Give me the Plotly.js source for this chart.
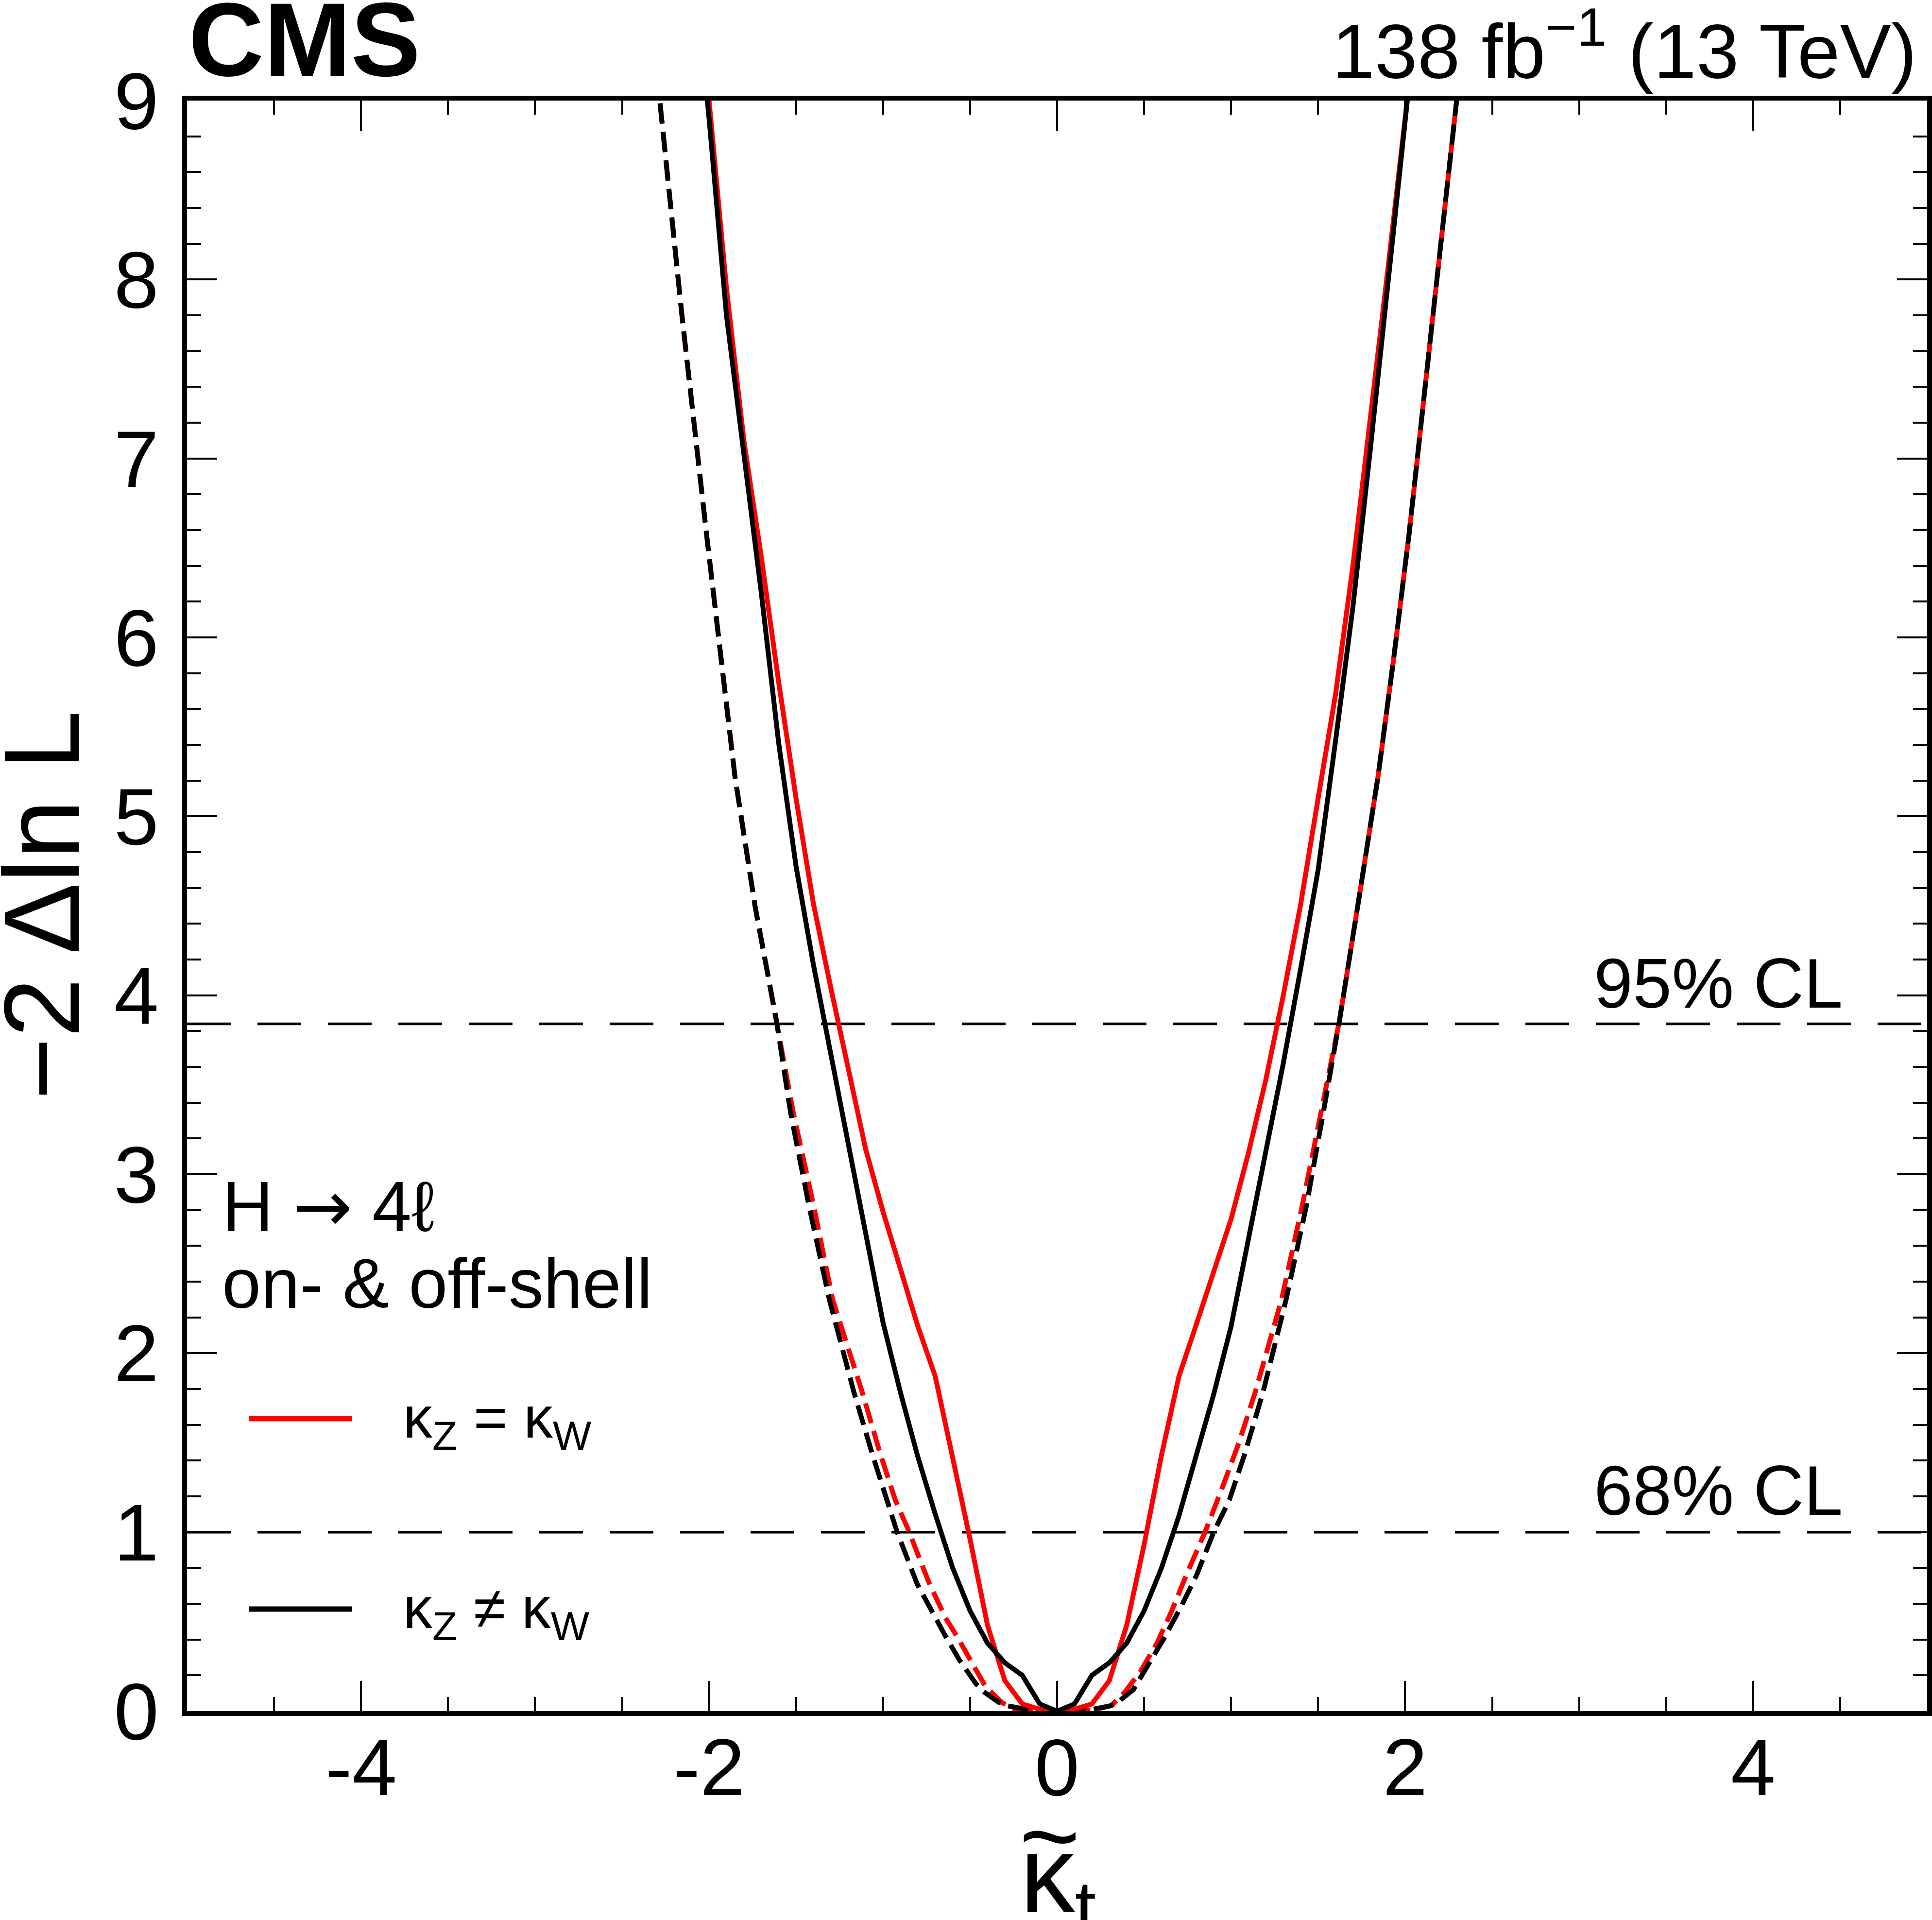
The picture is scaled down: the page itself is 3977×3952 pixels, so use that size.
<!DOCTYPE html>
<html>
<head>
<meta charset="utf-8">
<script src="https://cdn.plot.ly/plotly-3.0.1.min.js"></script>
<style>
  html, body { margin: 0; padding: 0; background: #ffffff; }
  #chart { width: 3977px; height: 3952px; }
</style>
</head>
<body>
<div id="chart"></div>
<script>
// ---------------- data ----------------
// kappa_t grid of the observed scans
const KT_GRID = [-2.1,-2.0,-1.9,-1.8,-1.7,-1.6,-1.5,-1.4,-1.3,-1.2,-1.1,-1.0,-0.9,-0.8,-0.7,-0.6,-0.5,-0.4,-0.3,-0.2,-0.1,0,
                 0.1,0.2,0.3,0.4,0.5,0.6,0.7,0.8,0.9,1.0,1.1,1.2,1.3,1.4,1.5,1.6,1.7,1.8,1.9,2.0,2.1];
// observed, kZ = kW (red solid)
const DNLL_KZ_EQ_KW_OBS = [9.9,9.0,7.95,7.1,6.45,5.75,5.10,4.51,4.04,3.60,3.14,2.79,2.47,2.15,1.87,1.43,0.96,0.48,0.17,0.04,0.01,0,
                           0.01,0.04,0.17,0.48,0.93,1.43,1.87,2.16,2.46,2.75,3.12,3.53,4.0,4.51,5.10,5.68,6.40,7.2,8.05,8.9,9.8];
// observed, kZ != kW (black solid)
const DNLL_KZ_NE_KW_OBS = [9.9,8.9,7.8,7.05,6.25,5.41,4.72,4.17,3.67,3.16,2.67,2.17,1.78,1.42,1.10,0.80,0.56,0.38,0.27,0.20,0.04,0,
                           0.04,0.20,0.27,0.38,0.56,0.80,1.09,1.42,1.77,2.15,2.63,3.12,3.62,4.15,4.70,5.42,6.17,7.05,7.95,8.88,9.8];
// expected, kZ = kW (red dashed)
const KT_KZ_EQ_KW_EXP = [-2.4,-2.286,-2.156,-2.015,-1.931,-1.851,-1.736,-1.613,-1.515,-1.398,-1.29,-1.119,-1.02,-0.93,-0.858,-0.737,-0.642,-0.575,-0.494,-0.413,
                         -0.318,-0.24,-0.1,0,0.1,0.2,0.31,0.384,0.478,0.573,0.654,0.748,0.85,0.95,1.045,1.138,1.29,1.408,1.515,1.623,
                         1.728,1.844,1.934,2.023,2.16,2.296,2.4];
const DNLL_KZ_EQ_KW_EXP = [10.1,9.0,7.8,6.58,5.88,5.22,4.50,3.86,3.34,2.82,2.30,1.78,1.45,1.18,1.02,0.72,0.522,0.417,0.272,0.14,
                           0.048,0.01,0.001,0,0.001,0.005,0.03,0.1,0.22,0.378,0.549,0.773,1.0,1.25,1.50,1.78,2.30,2.82,3.34,3.86,
                           4.50,5.22,5.88,6.58,7.8,9.0,10.1];
// expected, kZ != kW (black dashed)
const KT_KZ_NE_KW_EXP = [-2.4,-2.286,-2.156,-2.015,-1.931,-1.851,-1.736,-1.613,-1.531,-1.425,-1.309,-1.167,-1.06,-0.98,-0.919,-0.804,-0.723,-0.642,-0.561,-0.467,
                         -0.426,-0.337,-0.288,-0.181,0,0.21,0.309,0.348,0.438,0.519,0.613,0.708,0.802,0.9,0.99,1.076,1.183,1.316,1.432,1.529,
                         1.623,1.728,1.844,1.934,2.023,2.16,2.296,2.4];
const DNLL_KZ_NE_KW_EXP = [10.1,9.0,7.8,6.58,5.88,5.22,4.50,3.86,3.34,2.82,2.30,1.78,1.43,1.18,1.0,0.71,0.56,0.42,0.285,0.154,
                           0.111,0.05,0.03,0.011,0,0.011,0.03,0.049,0.12,0.246,0.404,0.575,0.76,1.0,1.18,1.43,1.78,2.30,2.82,3.34,
                           3.86,4.50,5.22,5.88,6.58,7.8,9.0,10.1];

const CL_LEVELS = [1.0, 3.84];
const CL_LABELS = ["68% CL", "95% CL"];
const X_TICKS = [-4, -2, 0, 2, 4];
const X_TICK_LABELS = ["-4", "-2", "0", "2", "4"];
const Y_TICKS = [0, 1, 2, 3, 4, 5, 6, 7, 8, 9];
const Y_TICK_LABELS = ["0", "1", "2", "3", "4", "5", "6", "7", "8", "9"];
const LEGEND_LABELS = ["κ<sub>Z</sub> = κ<sub>W</sub>", "κ<sub>Z</sub> ≠ κ<sub>W</sub>"];
const LEGEND_COLORS = ["#ff0000", "#000000"];

// ---------------- geometry helpers ----------------
const W = 3977, H = 3952;
const M = {l: 385, r: 10, t: 207, b: 430};
const PW = W - M.l - M.r, PH = H - M.t - M.b;
const px = (x) => (x - M.l) / PW;          // pixel -> paper x
const py = (y) => (H - M.b - y) / PH;      // pixel -> paper y

const FONT = "Liberation Sans, Arial, Helvetica, sans-serif";

const traces = [
  {x: KT_KZ_EQ_KW_EXP, y: DNLL_KZ_EQ_KW_EXP, mode: "lines", line: {color: "#ff0000", width: 10, dash: "42px,17px"}},
  {x: KT_KZ_NE_KW_EXP, y: DNLL_KZ_NE_KW_EXP, mode: "lines", line: {color: "#000000", width: 10, dash: "42px,17px"}},
  {x: KT_GRID, y: DNLL_KZ_EQ_KW_OBS, mode: "lines", line: {color: "#ff0000", width: 10}},
  {x: KT_GRID, y: DNLL_KZ_NE_KW_OBS, mode: "lines", line: {color: "#000000", width: 10}}
];

const shapes = [];
CL_LEVELS.forEach(function (lvl) {
  shapes.push({type: "line", xref: "paper", x0: 0, x1: 1, yref: "y", y0: lvl, y1: lvl,
               layer: "below", line: {color: "#000000", width: 5.5, dash: "90px,55px"}});
});
// legend sample lines
const LEG_Y = [2920, 3312];
LEGEND_COLORS.forEach(function (c, i) {
  shapes.push({type: "line", xref: "paper", yref: "paper", x0: px(513), x1: px(725), y0: py(LEG_Y[i]), y1: py(LEG_Y[i]),
               line: {color: c, width: 11}});
});

const annotations = [
  {text: "<b>CMS</b>", xref: "paper", yref: "paper", x: px(386), y: py(82), xanchor: "left", yanchor: "middle",
   showarrow: false, font: {family: FONT, size: 215, color: "#000"}},
  {text: "138 fb<sup>−1</sup> (13 TeV)", xref: "paper", yref: "paper", x: px(3948), y: py(94), xanchor: "right", yanchor: "middle",
   showarrow: false, font: {family: FONT, size: 158, color: "#000"}},
  {text: "H <span style=\"font-family:DejaVu Sans\">→</span> 4ℓ", xref: "paper", yref: "paper", x: px(455), y: py(2483), xanchor: "left", yanchor: "middle",
   showarrow: false, font: {family: FONT, size: 146, color: "#000"}},
  {text: "on- &amp; off-shell", xref: "paper", yref: "paper", x: px(455), y: py(2642), xanchor: "left", yanchor: "middle",
   showarrow: false, font: {family: FONT, size: 144, color: "#000"}},
  {text: "−2 Δln L", xref: "paper", yref: "paper", x: px(86), y: py(1864), xanchor: "center", yanchor: "middle",
   textangle: -90, showarrow: false, font: {family: FONT, size: 220, color: "#000"}},
  {text: "κ<sub>t</sub>", xref: "paper", yref: "paper", x: px(2178), y: py(3873), xanchor: "center", yanchor: "middle",
   showarrow: false, font: {family: FONT, size: 225, color: "#000"}},
  {text: "~", xref: "paper", yref: "paper", x: px(2161), y: py(3778), xanchor: "center", yanchor: "middle",
   showarrow: false, font: {family: FONT, size: 215, color: "#000"}}
];
const CL_TEXT_Y = [3068, 2024];
CL_LABELS.forEach(function (t, i) {
  annotations.push({text: t, xref: "paper", yref: "paper", x: px(3795), y: py(CL_TEXT_Y[i]), xanchor: "right", yanchor: "middle",
                    showarrow: false, font: {family: FONT, size: 144, color: "#000"}});
});
LEGEND_LABELS.forEach(function (t, i) {
  annotations.push({text: t, xref: "paper", yref: "paper", x: px(828), y: py(LEG_Y[i] + 6), xanchor: "left", yanchor: "middle",
                    showarrow: false, font: {family: FONT, size: 120, color: "#000"}});
});

const axisCommon = {
  ticks: "inside", ticklen: 62, tickwidth: 4, tickcolor: "#000",
  showline: true, linewidth: 10, linecolor: "#000", mirror: "allticks",
  showgrid: false, zeroline: false, tickfont: {family: FONT, size: 166, color: "#000"}
};

const layout = {
  width: W, height: H,
  margin: {l: M.l, r: M.r, t: M.t, b: M.b, pad: 0},
  paper_bgcolor: "#ffffff", plot_bgcolor: "#ffffff",
  showlegend: false,
  font: {family: FONT, color: "#000"},
  xaxis: Object.assign({}, axisCommon, {
    range: [-5, 5], tickmode: "array", tickvals: X_TICKS, ticktext: X_TICK_LABELS, ticklabelstandoff: -36,
    minor: {tickmode: "linear", tick0: 0, dtick: 0.5, ticks: "inside", ticklen: 29, tickwidth: 4, tickcolor: "#000", showgrid: false}
  }),
  yaxis: Object.assign({}, axisCommon, {
    range: [0, 9], tickmode: "array", tickvals: Y_TICKS, ticktext: Y_TICK_LABELS, ticklabelstandoff: 15,
    minor: {tickmode: "linear", tick0: 0, dtick: 0.2, ticks: "inside", ticklen: 29, tickwidth: 4, tickcolor: "#000", showgrid: false}
  }),
  shapes: shapes,
  annotations: annotations
};

Plotly.newPlot("chart", traces, layout, {displayModeBar: false, staticPlot: true});
</script>
</body>
</html>
